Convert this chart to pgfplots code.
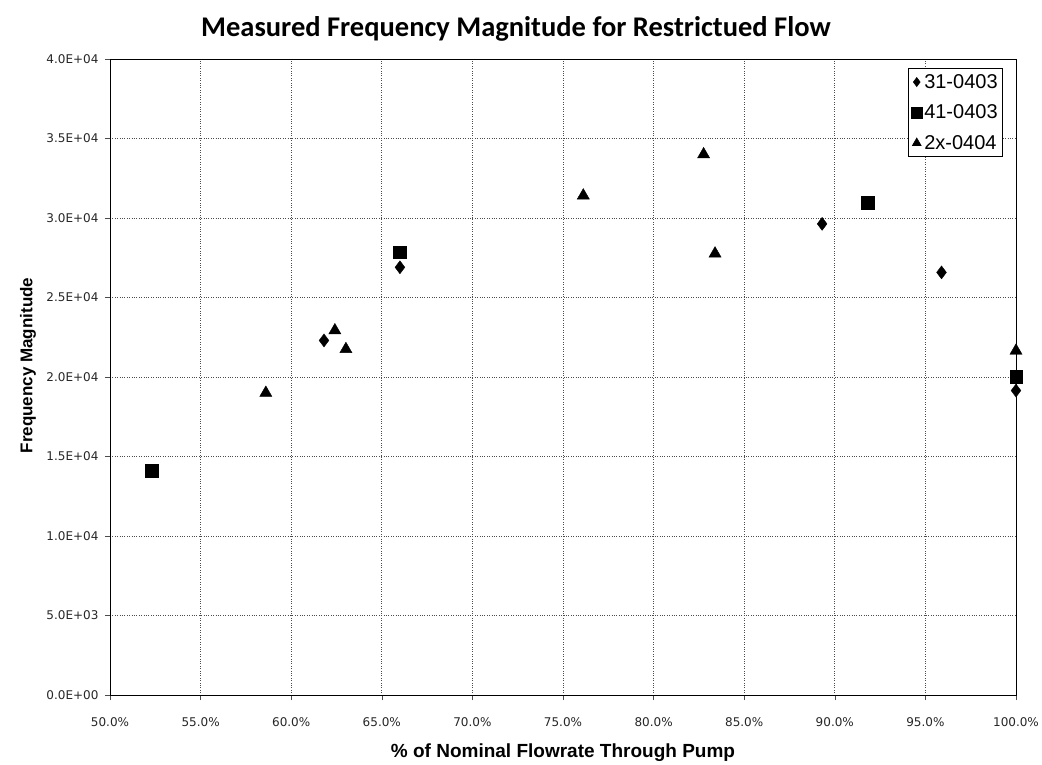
\documentclass[border=0pt]{standalone}
\usepackage{pgfplots}
\pgfplotsset{compat=1.18}
\usepackage{fontspec}
\setmainfont{Liberation Sans}
\newfontfamily\titlefont{Carlito}
\newfontfamily\tickfont{DejaVu Sans}
\begin{document}
\begin{tikzpicture}
\begin{axis}[
  at={(0pt,0pt)}, anchor=south west,
  scale only axis,
  width=906pt, height=636pt,
  xmin=50, xmax=100, ymin=0, ymax=40000,
  xtick={50,55,60,65,70,75,80,85,90,95,100},
  xticklabels={50.0\%,55.0\%,60.0\%,65.0\%,70.0\%,75.0\%,80.0\%,85.0\%,90.0\%,95.0\%,100.0\%},
  ytick={0,5000,10000,15000,20000,25000,30000,35000,40000},
  yticklabels={0.0E+00,5.0E+03,1.0E+04,1.5E+04,2.0E+04,2.5E+04,3.0E+04,3.5E+04,4.0E+04},
  scaled ticks=false,
  tick align=outside,
  major tick length=5pt,
  xtick pos=bottom, ytick pos=left,
  tick style={black!70, line width=0.5pt},
  ticklabel style={font=\tickfont\fontsize{12}{14}\selectfont, text=black!85},
  xticklabel style={yshift=-14pt},
  yticklabel style={xshift=-3pt},
  grid=major,
  major grid style={black!70, dotted, line width=0.7pt},
  axis line style={black, line width=0.9pt},
  clip=false,
  legend style={
    at={(rel axis cs:0.9856,0.9858)}, anchor=north east,
    font=\fontsize{20}{24}\selectfont,
    draw=black, line width=0.6pt,
    inner xsep=3pt, inner ysep=4pt,
    row sep=11pt,
    legend cell align=left,
  },
  legend image code/.code={\draw[#1] plot coordinates {(0.12cm,0cm)};},
]
\addplot[only marks, mark=diamond*, mark size=6.5pt, fill=black, draw=black,
  legend image post style={mark size=4.5pt}]
coordinates {
(61.81,22300) (66.0,26900) (89.30,29630) (95.89,26580) (100.0,19150)
};
\addlegendentry{31-0403}
\addplot[only marks, mark=square*, mark size=6.3pt, fill=black, draw=black,
  legend image post style={mark size=5.5pt}]
coordinates {
(52.30,14100) (66.0,27860) (91.82,30970) (100.0,20030)
};
\addlegendentry{41-0403}
\addplot[only marks, mark=triangle*, mark size=7pt, fill=black, draw=black,
  legend image post style={mark size=5pt}]
coordinates {
(58.60,19000) (62.41,22930) (63.02,21750) (76.12,31410) (82.76,34000) (83.39,27760) (100.0,21650)
};
\addlegendentry{2x-0404}
\end{axis}
\node[font=\titlefont\bfseries\fontsize{28.5}{32}\selectfont] at (406pt,666pt) {Measured Frequency Magnitude for Restrictued Flow};
\node[font=\bfseries\fontsize{19}{22}\selectfont] at (453pt,-58pt) {\% of Nominal Flowrate Through Pump};
\node[font=\bfseries\fontsize{17}{20}\selectfont, rotate=90] at (-82pt,329.5pt) {Frequency Magnitude};
\pgfresetboundingbox
\path (-110pt,-69pt) rectangle (932pt,695pt);
\end{tikzpicture}
\end{document}
